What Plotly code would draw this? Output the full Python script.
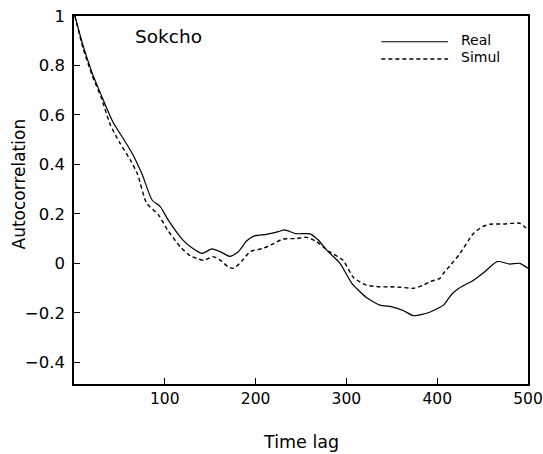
import plotly.graph_objects as go

# Data
real_lag = [1, 10, 20, 30, 43, 55, 64, 75, 86, 95, 103, 120, 131, 141, 152, 162, 172, 181,
            190, 198, 212, 225, 232, 244, 260, 269, 280, 293, 306, 322, 337, 350, 362, 374,
            385, 393, 403, 407, 416, 424, 440, 452, 466, 480, 491, 500]
real_acf = [1.0, 0.88, 0.77, 0.68, 0.57, 0.5, 0.445, 0.36, 0.256, 0.229, 0.18, 0.094, 0.06,
            0.04, 0.058, 0.045, 0.028, 0.047, 0.09, 0.11, 0.117, 0.128, 0.135, 0.12, 0.119,
            0.094, 0.047, 0.0, -0.081, -0.138, -0.169, -0.176, -0.19, -0.212, -0.205, -0.196,
            -0.178, -0.169, -0.125, -0.101, -0.068, -0.035, 0.007, -0.003, 0.0, -0.02]

simul_lag = [1, 10, 20, 30, 40, 50, 62, 70, 80, 93, 103, 117, 128, 135, 143, 153, 162, 170,
             176, 185, 194, 208, 220, 230, 245, 256, 267, 280, 296, 308, 322, 337, 348, 360,
             374, 385, 392, 403, 407, 414, 424, 440, 450, 458, 473, 491, 500]
simul_acf = [1.0, 0.87, 0.76, 0.67, 0.56, 0.49, 0.418, 0.36, 0.243, 0.196, 0.135, 0.067,
             0.03, 0.02, 0.012, 0.027, 0.01, -0.015, -0.02, 0.01, 0.047, 0.06, 0.08, 0.098,
             0.1, 0.105, 0.088, 0.05, 0.013, -0.058, -0.088, -0.095, -0.095, -0.097, -0.101,
             -0.088, -0.074, -0.061, -0.04, -0.01, 0.034, 0.121, 0.148, 0.158, 0.159, 0.162,
             0.135]

x_ticks = [100, 200, 300, 400, 500]
y_ticks = [-0.4, -0.2, 0, 0.2, 0.4, 0.6, 0.8, 1]
y_tick_labels = ["\u22120.4", "\u22120.2", "0", "0.2", "0.4", "0.6", "0.8", "1"]

FONT = "DejaVu Sans"

fig = go.Figure()
fig.add_trace(go.Scatter(x=real_lag, y=real_acf, mode="lines", name="Real",
                         line=dict(color="black", width=1.2, shape="spline", smoothing=0.6),
                         showlegend=False))
fig.add_trace(go.Scatter(x=simul_lag, y=simul_acf, mode="lines", name="Simul",
                         line=dict(color="black", width=1.4, dash="4px,3px", shape="spline",
                                   smoothing=0.6),
                         showlegend=False))

axis_common = dict(showgrid=False, zeroline=False, showline=True, linecolor="black",
                   linewidth=1.5, mirror=True, ticks="inside", ticklen=6, tickwidth=1,
                   tickcolor="black", ticklabeloverflow="allow", automargin=False)

fig.update_xaxes(range=[0, 500], tickvals=x_ticks,
                 tickfont=dict(family=FONT, size=15.5, color="black"), **axis_common)
fig.update_yaxes(range=[-0.488, 1], tickvals=y_ticks, ticktext=y_tick_labels,
                 ticklabelstandoff=4,
                 tickfont=dict(family=FONT, size=16.5, color="black"), **axis_common)

# legend (drawn manually to match line length)
fig.add_shape(type="line", xref="paper", yref="paper", x0=0.677, x1=0.824, y0=0.930, y1=0.930,
              line=dict(color="black", width=1.2))
fig.add_shape(type="line", xref="paper", yref="paper", x0=0.677, x1=0.824, y0=0.883, y1=0.883,
              line=dict(color="black", width=1.4, dash="4px,3px"))
fig.add_annotation(text="Real", xref="paper", yref="paper", x=0.848, y=0.935, xanchor="left",
                   yanchor="middle", showarrow=False, font=dict(family=FONT, size=14, color="black"))
fig.add_annotation(text="Simul", xref="paper", yref="paper", x=0.848, y=0.889, xanchor="left",
                   yanchor="middle", showarrow=False, font=dict(family=FONT, size=14, color="black"))

fig.add_annotation(text="Sokcho", xref="paper", yref="paper", x=0.130, y=0.944, xanchor="left",
                   yanchor="middle", showarrow=False, font=dict(family=FONT, size=18.5, color="black"))

# axis titles
fig.add_annotation(text="Time lag", xref="paper", yref="paper", x=0.5, y=0, yshift=-58,
                   xanchor="center", yanchor="middle", showarrow=False,
                   font=dict(family=FONT, size=17.5, color="black"))
fig.add_annotation(text="Autocorrelation", xref="paper", yref="paper", x=0, xshift=-55.5,
                   y=(384 - 184) / 368, xanchor="center", yanchor="middle", textangle=-90,
                   showarrow=False, font=dict(family=FONT, size=17, color="black"))

fig.update_layout(width=543, height=454, margin=dict(l=74, r=15, t=16, b=70),
                  plot_bgcolor="white", paper_bgcolor="white")

fig.write_html("out.html")
